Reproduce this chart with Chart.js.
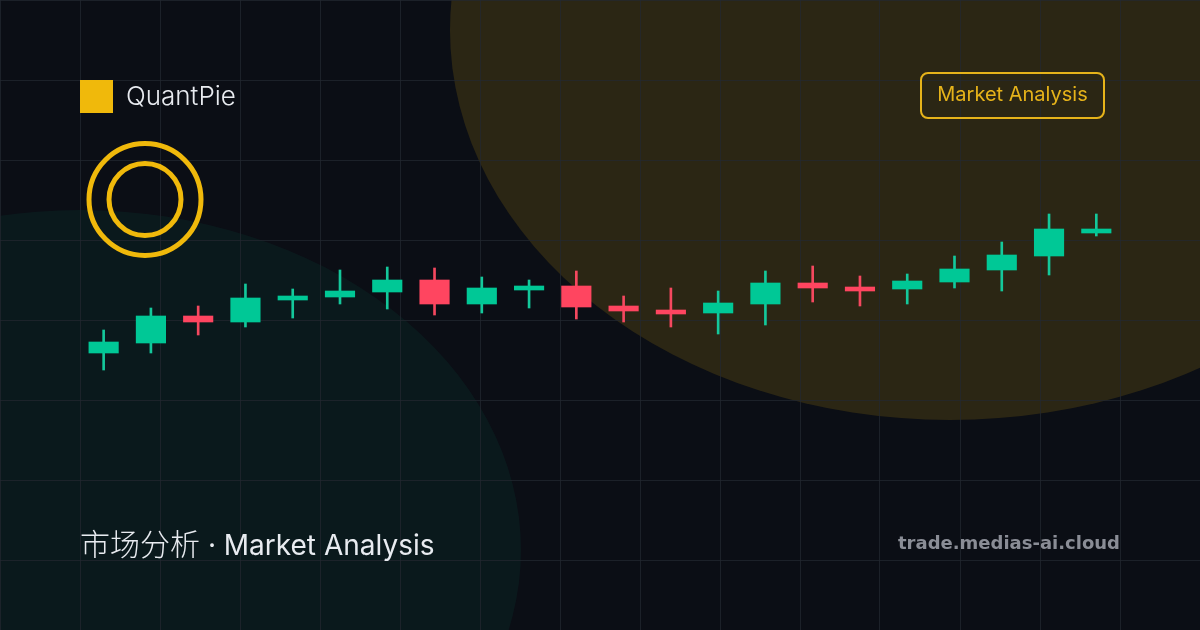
<!DOCTYPE html>
<html lang="zh">
<head>
<meta charset="utf-8">
<title>QuantPie</title>
<script src="https://cdn.jsdelivr.net/npm/chart.js@4/dist/chart.umd.min.js"></script>
<style>
  html, body { margin: 0; padding: 0; background: #0b0e15; }
  #wrap { position: relative; width: 1200px; height: 630px; overflow: hidden; font-family: Inter, sans-serif; }
  #c { position: absolute; left: 0; top: 0; }
  .t { position: absolute; white-space: nowrap; line-height: 1; }
  #mark { position: absolute; left: 80px; top: 80px; width: 33px; height: 33px; background: #f0b90b; }
  #brand { left: 126px; top: 83px; font-size: 26px; font-weight: 300; color: #e8ebf0; }
  #chip { position: absolute; left: 920px; top: 72px; width: 181px; height: 43px; border: 2px solid #e6b31a; border-radius: 8px;
          color: #e6b31a; font-size: 20px; text-align: center; line-height: 41px; }
  #headline { left: 80px; top: 527px; font-size: 28px; font-weight: 400; color: #e8ebf0; font-family: Inter, "Noto Sans CJK SC", sans-serif; }
  #headline span { font-size: 30px; font-weight: 300; font-family: "Noto Sans CJK SC", sans-serif; }
  #site { left: 898px; top: 534px; font-size: 18px; font-weight: 700; color: #8a8d96; font-family: "DejaVu Sans", sans-serif; }
</style>
</head>
<body>
<div id="wrap">
  <canvas id="c" width="1200" height="630"></canvas>
  <div id="mark"></div>
  <div class="t" id="brand">QuantPie</div>
  <div id="chip">Market Analysis</div>
  <div class="t" id="headline"><span>市场分析</span> · Market Analysis</div>
  <div class="t" id="site">trade.medias-ai.cloud</div>
</div>
<script>
// values (price = height above the bottom edge)
const opens  = [277, 287, 314, 308, 330, 333, 338, 350, 326, 340, 344, 324, 320, 317, 326, 347, 343, 341, 348, 360, 374, 397];
const closes = [288, 314, 308, 332, 334, 339, 350, 326, 342, 344, 323, 319, 316, 327, 347, 342, 339, 349, 361, 375, 401, 401];
const highs  = [300, 322, 324, 346, 341, 360, 363, 362, 353, 350, 359, 334, 342, 339, 359, 364, 354, 356, 374, 388, 416, 416];
const lows   = [260, 277, 295, 303, 312, 326, 321, 315, 317, 322, 311, 308, 303, 296, 305, 328, 324, 326, 342, 339, 355, 394];

const UP = "#00c896", DOWN = "#ff4560", WICK_UP = "#14c89b", WICK_DOWN = "#f5485f";
const isUp = opens.map((o, i) => closes[i] >= o);

// one slot is 47.27px, first candle sits 103.64px in
const SLOT = 47.27, FIRST = 103.64;

const backdrop = {
  id: "backdrop",
  beforeDraw(chart) {
    const { ctx } = chart;
    ctx.save();
    ctx.fillStyle = "rgba(240,185,11,0.14)";
    ctx.beginPath(); ctx.ellipse(950, 30, 500, 390, 0, 0, Math.PI * 2); ctx.fill();
    ctx.fillStyle = "rgba(0,200,150,0.06)";
    ctx.beginPath(); ctx.ellipse(80, 550, 441, 340, 0, 0, Math.PI * 2); ctx.fill();
    ctx.restore();
  },
  afterDraw(chart) {
    const { ctx } = chart;
    ctx.save();
    ctx.strokeStyle = "#f0b90b";
    ctx.lineWidth = 5;
    ctx.beginPath(); ctx.arc(145, 199.5, 56, 0, Math.PI * 2); ctx.stroke();
    ctx.beginPath(); ctx.arc(145, 199.5, 36, 0, Math.PI * 2); ctx.stroke();
    ctx.restore();
  }
};

const gridAxis = (axis, max) => ({
  type: "linear", axis, min: 0, max, offset: false, reverse: axis === "y",
  position: axis === "y" ? "left" : "top",
  border: { display: false },
  ticks: { display: false, stepSize: 80 },
  grid: { offset: false, color: "rgba(36,41,50,0.7)", lineWidth: 1, drawTicks: false, tickLength: 0 }
});

new Chart(document.getElementById("c"), {
  type: "bar",
  data: {
    datasets: [
      {
        label: "wick", order: 2, barThickness: 2, grouped: false,
        backgroundColor: isUp.map((u) => (u ? WICK_UP : WICK_DOWN)),
        data: highs.map((h, i) => ({ x: i, y: [lows[i], h] }))
      },
      {
        label: "body", order: 1, barThickness: 29.5, grouped: false,
        backgroundColor: isUp.map((u) => (u ? UP : DOWN)),
        data: opens.map((o, i) => ({ x: i, y: [o, closes[i]] }))
      }
    ]
  },
  options: {
    responsive: false,
    animation: false,
    layout: { padding: 0 },
    plugins: { legend: { display: false }, tooltip: { enabled: false } },
    scales: {
      x: { type: "linear", display: false, offset: false, min: -FIRST / SLOT, max: (1200 - FIRST) / SLOT },
      y: { type: "linear", display: false, min: 0, max: 630 },
      gridX: gridAxis("x", 1200),
      gridY: gridAxis("y", 630)
    }
  },
  plugins: [backdrop]
});
</script>
</body>
</html>
